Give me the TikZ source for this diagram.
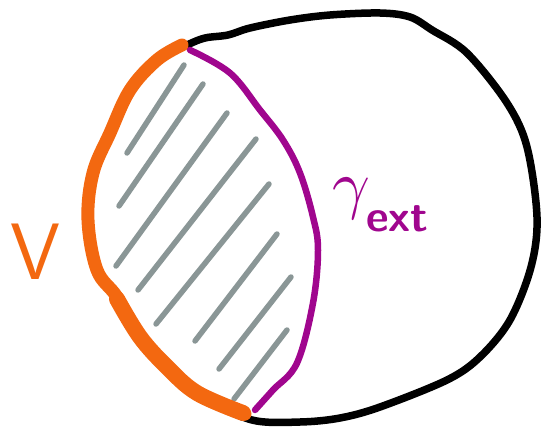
\documentclass[tikz,border=0pt]{standalone}
\usepackage{tikz}
\usetikzlibrary{calc}
\usepackage{xcolor}
\definecolor{vorange}{RGB}{243,104,16}
\definecolor{gammapurple}{RGB}{160,6,142}
\definecolor{hatchgray}{RGB}{138,150,150}
\tikzset{
    sketchcircle/.style={draw=black, line width=7.5pt, line join=round},
    vcurve/.style={draw=vorange, line width=13pt, line cap=round, line join=round},
    gammacurve/.style={draw=gammapurple, line width=6.5pt, line cap=round, line join=round},
    hatchline/.style={draw=hatchgray, line width=5.5pt, line cap=round},
    vlabel/.style={text=vorange, inner sep=0pt, font=\fontsize{80}{80}\selectfont\sffamily},
    gammalabel/.style={text=gammapurple, inner sep=0pt}
}

\begin{document}
\begin{tikzpicture}[x=1pt, y=-1pt]
    \useasboundingbox (0,0) rectangle (541,428);

    % outer region
    \draw[sketchcircle] plot[smooth cycle, tension=0.55] coordinates {
        (187,45) (205,38) (228,35) (250,28) (290,20) (330,15) (380,13) (410,17)
        (432,30) (467,53) (507,103) (527,147) (537,217) (531,267) (510,320)
        (480,357) (447,380) (380,407) (340,418) (300,422) (252,420)
        (205,398) (170,371) (138,332) (114,294) (94,265) (87,215) (97,165) (109,132) (131,88) (156,60)};

    % hatching of V
    \foreach \xa/\ya/\xb/\yb in {127/153/184/65, 119/206/203/84, 116/266/227/113,
        138/290/256/139, 156/324/269/184, 195/341/277/234, 219/369/291/277, 234/399/287/330}
        \draw[hatchline] (\xa,\ya) -- (\xb,\yb);

    % boundary gamma_ext
    \draw[gammacurve] plot[smooth, tension=0.6] coordinates {
        (190,50) (230,73) (260,110) (283,140) (300,173) (313,217) (318,250)
        (313,303) (297,363) (273,390) (255,410)};

    % V itself (heavier near the bottom)
    \draw[vcurve] plot[smooth, tension=0.6] coordinates {
        (182,45) (157,60) (130,90) (110,133) (93,173) (88,220) (97,270)
        (117,297) (140,337) (167,367) (197,393) (245,414)};
    \draw[vcurve, line width=16pt] plot[smooth, tension=0.6] coordinates {
        (117,299) (140,337) (167,367) (197,393) (243,413)};

    \node[vlabel] (vname) at (35,252) {V};
    \node[gammalabel] (gammaname) at (351,199) {\scalebox{6.6}{$\gamma$}};
    \node[gammalabel, anchor=base west, font=\fontsize{44}{44}\selectfont\sffamily\bfseries] (extname) at (366,231) {ext};
\end{tikzpicture}
\end{document}
